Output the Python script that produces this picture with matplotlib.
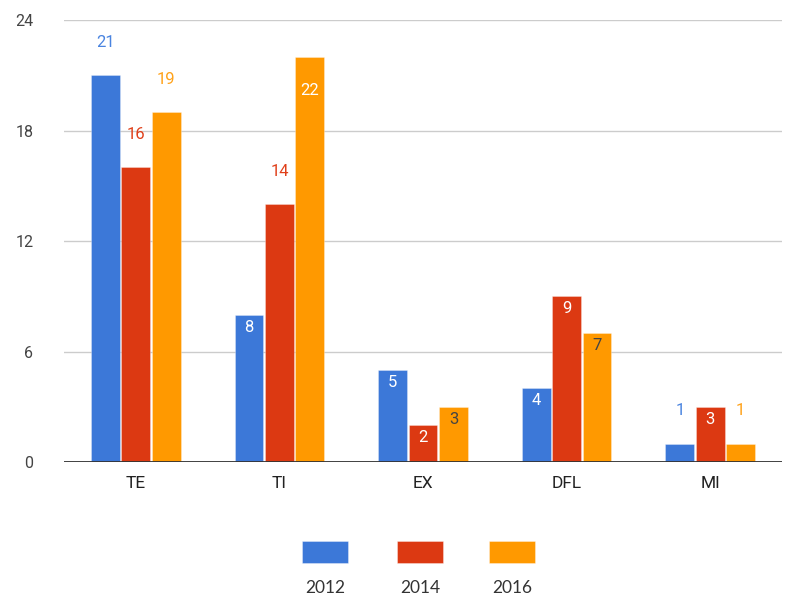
import matplotlib
matplotlib.use("Agg")
import matplotlib.pyplot as plt
from matplotlib.patches import Rectangle
import numpy as np

categories = ["TE", "TI", "EX", "DFL", "MI"]
series_names = ["2012", "2014", "2016"]
v2012 = [21, 8, 5, 4, 1]
v2014 = [16, 14, 2, 9, 3]
v2016 = [19, 22, 3, 7, 1]
colors = ["#3c78d8", "#dc3912", "#ff9900"]
label_colors_above = ["#4a84e0", "#e0401a", "#ffa21a"]
yticks = [0, 6, 12, 18, 24]

# label placement: 'out' = above bar in series colour, 'in' = inside bar
placement = [
    ["out", "in", "in", "in", "out"],
    ["out", "out", "in", "in", "in"],
    ["out", "in", "in", "in", "out"],
]
inside_text_color = ["white", "white", "#444444"]

plt.rcParams['font.family'] = ['Roboto', 'DejaVu Sans']
fig = plt.figure(figsize=(7.87, 6.0), dpi=100)
ax = fig.add_axes([64/787, 1-462/600, (782-64)/787, (462-20)/600])

x = np.arange(len(categories))
width = 0.2
offs = [-0.212, 0.0, 0.212]
all_vals = [v2012, v2014, v2016]
for si, vals in enumerate(all_vals):
    bars = ax.bar(x + offs[si], vals, width, color=colors[si], edgecolor=(1, 1, 1, 0.35),
                  linewidth=0.6, zorder=3)
    for ci, (b, v) in enumerate(zip(bars, vals)):
        cx = b.get_x() + b.get_width() / 2
        if placement[si][ci] == "out":
            ax.annotate(str(v), (cx, v), xytext=(0, 23.5), textcoords="offset points",
                        ha="center", va="center", fontsize=12,
                        color=label_colors_above[si], zorder=4)
        else:
            tc = inside_text_color[si]
            dy = -9
            if si == 2 and v == 22:
                dy = -24
                tc = "white"
            ax.annotate(str(v), (cx, v), xytext=(0, dy), textcoords="offset points",
                        ha="center", va="center", fontsize=12,
                        color=tc, zorder=4)

ax.set_xlim(-0.5, len(categories) - 0.5)
ax.set_ylim(0, 24)
ax.set_yticks(yticks)
ax.set_yticklabels([str(t) for t in yticks], fontsize=11.5, color="#444444")
ax.set_xticks(x)
ax.set_xticklabels(categories, fontsize=12.5, color="#222222")
ax.tick_params(axis="y", length=0, pad=22)
ax.tick_params(axis="x", length=0, pad=10)
for s in ax.spines.values():
    s.set_visible(False)
ax.grid(axis="y", color="#cccccc", linewidth=1, zorder=0)
ax.axhline(0, color="#333333", linewidth=1.3, zorder=5)

# legend
leg_x = [325, 420, 512]
for i, name in enumerate(series_names):
    cxp = leg_x[i]
    fig.add_artist(Rectangle(((cxp - 23) / 787, 1 - 563 / 600), 46 / 787, 22 / 600,
                             transform=fig.transFigure, facecolor=colors[i],
                             edgecolor=(1, 1, 1, 0.4), linewidth=0.6))
    fig.text(cxp / 787, 1 - 588 / 600, name, ha="center", va="center",
             fontsize=12.5, color="#333333", family=["Lato", "DejaVu Sans"])

fig.savefig("out.png", dpi=100)
